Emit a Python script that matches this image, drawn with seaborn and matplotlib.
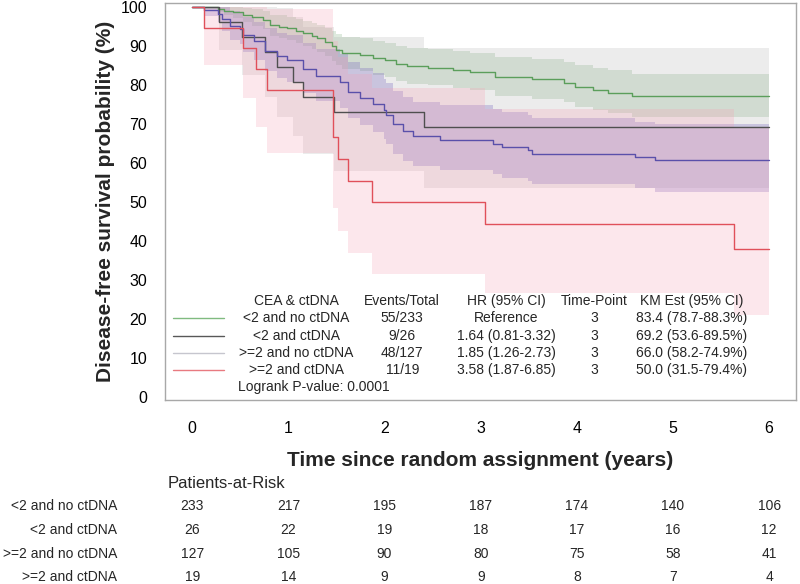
import numpy as np
import pandas as pd
import matplotlib
matplotlib.use("Agg")
import matplotlib.pyplot as plt
import seaborn as sns
from matplotlib import transforms

# ---------------- data ----------------
groups = ["<2 and no ctDNA", "<2 and ctDNA", ">=2 and no ctDNA", ">=2 and ctDNA"]
t_end = 6.0

t_g = [0, 0.27, 0.33, 0.42, 0.53, 0.62, 0.74, 0.81, 0.90, 0.99, 1.08, 1.15, 1.24, 1.30,
       1.38, 1.45, 1.50, 1.56, 1.74, 1.88, 2.00, 2.12, 2.23, 2.45, 2.71, 2.89, 3.15, 3.53,
       3.87, 3.98, 4.17, 4.32, 4.57]
s_g = [100, 99.6, 99.1, 98.7, 98.0, 97.4, 96.7, 95.4, 95.0, 94.6, 93.9, 93.3, 92.7, 92.0,
       91.1, 90.0, 89.0, 88.3, 87.7, 86.9, 86.4, 85.5, 84.9, 84.5, 84.0, 83.4, 82.1, 81.5,
       80.6, 79.6, 78.9, 78.1, 77.2]
lo_g = [100, 98.8, 97.9, 97.2, 96.2, 95.3, 94.4, 92.7, 92.2, 91.7, 90.8, 90.1, 89.4, 88.6,
        87.5, 86.2, 85.1, 84.3, 83.6, 82.7, 82.1, 81.1, 80.4, 80.0, 79.4, 78.7, 77.3, 76.6,
        75.6, 74.5, 73.7, 72.8, 71.8]
hi_g = [100, 100, 100, 100, 99.8, 99.5, 99.1, 98.1, 97.9, 97.6, 97.0, 96.6, 96.1, 95.5,
        94.8, 93.9, 93.1, 92.5, 92.0, 91.3, 90.9, 90.1, 89.6, 89.3, 88.8, 88.3, 87.2, 86.7,
        85.9, 85.1, 84.5, 83.8, 83.0]

t_k = [0, 0.28, 0.52, 0.76, 0.88, 1.05, 1.15, 1.47, 2.41]
s_k = [100, 96.2, 92.3, 88.5, 84.6, 80.8, 76.9, 73.1, 69.2]
lo_k = [100, 89.1, 82.6, 77.0, 71.8, 67.0, 62.3, 57.9, 53.6]
hi_k = [100, 100, 100, 100, 99.7, 97.5, 94.9, 92.3, 89.5]

t_b = [0, 0.12, 0.27, 0.31, 0.39, 0.50, 0.53, 0.64, 0.76, 0.88, 0.98, 1.15, 1.29, 1.54,
       1.62, 1.74, 1.88, 1.99, 2.02, 2.09, 2.19, 2.30, 2.58, 3.13, 3.22, 3.49, 3.53, 4.60, 4.81]
s_b = [100, 99.2, 98.4, 96.9, 95.3, 94.5, 92.9, 91.3, 88.9, 87.4, 86.6, 84.2, 82.4, 80.8,
       78.4, 76.8, 75.2, 73.6, 72.3, 70.0, 68.2, 66.9, 66.0, 65.0, 64.2, 63.3, 62.5, 61.6, 60.8]
lo_b = [100, 97.7, 96.2, 93.9, 91.6, 90.6, 88.5, 86.5, 83.6, 81.8, 80.9, 78.1, 76.1, 74.2,
        71.5, 69.8, 68.1, 66.3, 64.9, 62.4, 60.5, 59.2, 58.2, 57.2, 56.3, 55.4, 54.6, 53.6, 52.7]
hi_b = [100, 100, 100, 100, 99.1, 98.6, 97.5, 96.3, 94.6, 93.4, 92.8, 90.8, 89.3, 88.0,
        85.9, 84.5, 83.1, 81.7, 80.5, 78.5, 76.9, 75.6, 74.9, 73.9, 73.1, 72.3, 71.5, 70.7, 70.0]

t_r = [0, 0.12, 0.53, 0.66, 0.78, 1.46, 1.52, 1.62, 1.87, 3.05, 5.63]
s_r = [100, 94.7, 89.5, 84.2, 78.9, 66.7, 61.0, 55.4, 50.0, 44.4, 38.1]
lo_r = [100, 85.2, 76.7, 69.3, 62.6, 48.6, 42.6, 37.0, 31.5, 26.7, 21.0]
hi_r = [100, 100, 100, 100, 99.6, 91.4, 87.3, 83.0, 79.4, 74.0, 69.0]

events_total = ["55/233", "9/26", "48/127", "11/19"]
hr_ci = ["Reference", "1.64 (0.81-3.32)", "1.85 (1.26-2.73)", "3.58 (1.87-6.85)"]
time_point = ["3", "3", "3", "3"]
km_est = ["83.4 (78.7-88.3%)", "69.2 (53.6-89.5%)", "66.0 (58.2-74.9%)", "50.0 (31.5-79.4%)"]
logrank = "Logrank P-value: 0.0001"

risk_times = [0, 1, 2, 3, 4, 5, 6]
risk_g = [233, 217, 195, 187, 174, 140, 106]
risk_k = [26, 22, 19, 18, 17, 16, 12]
risk_b = [127, 105, 90, 80, 75, 58, 41]
risk_r = [19, 14, 9, 9, 8, 7, 4]

x_ticks = [0, 1, 2, 3, 4, 5, 6]
y_ticks = [0, 10, 20, 30, 40, 50, 60, 70, 80, 90, 100]

# ---------------- styling ----------------
line_colors = ["#5b9e5b", "#4f4f4f", "#5a50aa", "#e0505a"]
band_colors = ["#6aa06a", "#a0a0a0", "#7868c0", "#f7a0b4"]
band_alpha = [0.22, 0.20, 0.30, 0.25]
legend_line_colors = ["#80bb80", "#585858", "#c6c6ce", "#e87a80"]

sns.set_theme(style="white")
plt.rcParams["font.family"] = ["Liberation Sans", "DejaVu Sans"]

fig = plt.figure(figsize=(8.0, 5.84), dpi=100)
ax = fig.add_axes([165 / 800, 1 - 400 / 584, (796 - 165) / 800, (400 - 3) / 584])

series = [(t_g, s_g, lo_g, hi_g), (t_k, s_k, lo_k, hi_k),
          (t_b, s_b, lo_b, hi_b), (t_r, s_r, lo_r, hi_r)]

rows = []
for gi, (g, (t, s, lo, hi)) in enumerate(zip(groups, series)):
    tt = list(t) + [t_end]
    ss = list(s) + [s[-1]]
    ll = list(lo) + [lo[-1]]
    hh = list(hi) + [hi[-1]]
    ax.fill_between(tt, ll, hh, step="post", color=band_colors[gi],
                    alpha=band_alpha[gi], linewidth=0, zorder=1)
    for a, b in zip(tt, ss):
        rows.append({"time": a, "surv": b, "group": g})
df = pd.DataFrame(rows)

sns.lineplot(data=df, x="time", y="surv", hue="group", hue_order=groups,
             palette=line_colors, estimator=None, sort=False, legend=False,
             drawstyle="steps-post", linewidth=1.0, ax=ax, zorder=3)

ax.set_xlim(-0.284, 6.28)
ax.set_ylim(-0.69, 101.1)
ax.set_xticks(x_ticks)
ax.set_yticks(y_ticks)
ax.tick_params(axis="both", which="both", direction="out", length=5.8, width=1,
               color="#a0a0a0", labelsize=11.5, labelcolor="black", pad=7)
ax.tick_params(axis="x", pad=9)
for sp in ax.spines.values():
    sp.set_visible(True)
    sp.set_color("#a8a8a8")
    sp.set_linewidth(1.0)

ax.set_xlabel("Time since random assignment (years)", fontsize=15, fontweight="bold", labelpad=11)
ax.set_ylabel("Disease-free survival probability (%)", fontsize=15, fontweight="bold", labelpad=4)

# ---------------- in-plot legend table ----------------
fs_leg = 10
hdr_y = 0.2501
row_y = [0.2058, 0.1612, 0.1176, 0.0756]
col_x = [0.208, 0.376, 0.541, 0.680, 0.835]
headers = ["CEA & ctDNA", "Events/Total", "HR (95% CI)", "Time-Point", "KM Est (95% CI)"]
for cx, h in zip(col_x, headers):
    ax.text(cx, hdr_y, h, transform=ax.transAxes, ha="center", va="center", fontsize=fs_leg)
for i, g in enumerate(groups):
    y = row_y[i]
    ax.plot([0.0128, 0.0928], [y, y], transform=ax.transAxes, color=legend_line_colors[i], lw=1.0)
    vals = [g, events_total[i], hr_ci[i], time_point[i], km_est[i]]
    for cx, v in zip(col_x, vals):
        ax.text(cx, y, v, transform=ax.transAxes, ha="center", va="center", fontsize=fs_leg)
ax.text(0.1152, 0.032, logrank, transform=ax.transAxes, ha="left", va="center", fontsize=fs_leg)

# ---------------- patients-at-risk table ----------------
fs_risk = 10
fig.text(168 / 800, 1 - 484 / 584, "Patients-at-Risk", ha="left", va="center", fontsize=12)
trans = transforms.blended_transform_factory(ax.transData, fig.transFigure)
risk_rows = [risk_g, risk_k, risk_b, risk_r]
risk_y = [1 - 506 / 584, 1 - 530 / 584, 1 - 554 / 584, 1 - 577 / 584]
for g, vals, y in zip(groups, risk_rows, risk_y):
    fig.text(117 / 800, y, g, ha="right", va="center", fontsize=fs_risk)
    for tx, v in zip(risk_times, vals):
        ax.text(tx, y, str(v), transform=trans, ha="center", va="center",
                fontsize=fs_risk, clip_on=False)

fig.savefig("out.png", dpi=100)
